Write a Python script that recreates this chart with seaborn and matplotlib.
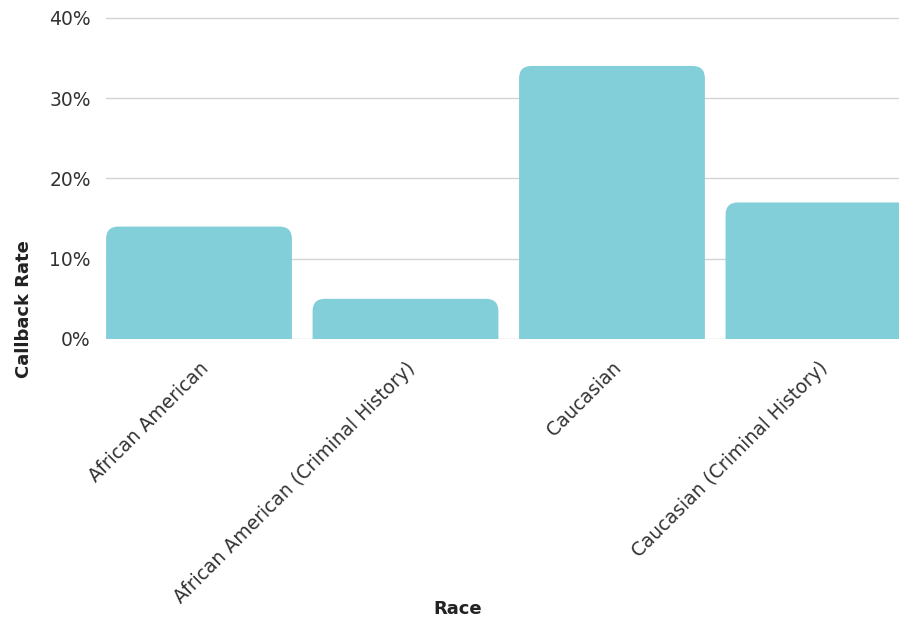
import matplotlib
matplotlib.use("Agg")
import matplotlib.pyplot as plt
import seaborn as sns
import pandas as pd
from matplotlib.patches import FancyBboxPatch
from matplotlib.ticker import PercentFormatter

# data
races = ["African American", "African American (Criminal History)",
         "Caucasian", "Caucasian (Criminal History)"]
callback_rate = [14, 5, 34, 17]  # percent

df = pd.DataFrame({"Race": races, "Callback Rate": callback_rate})

sns.set_theme(style="white")
plt.rcParams["font.family"] = ["DejaVu Sans"]

bar_color = "#83cfd9"

fig = plt.figure(figsize=(8.99, 6.18), dpi=100)
ax = fig.add_axes([0.118, 0.4515, 0.882, 0.521])

sns.barplot(data=df, x="Race", y="Callback Rate", color=bar_color,
            width=0.9, saturation=1, ax=ax)

# swap plain bars for ones with rounded tops (bottom part gets clipped)
for p in list(ax.patches):
    x0, w, h = p.get_x(), p.get_width(), p.get_height()
    p.set_visible(False)
    rb = FancyBboxPatch((x0, -3), w, h + 3,
                        boxstyle="round,pad=0,rounding_size=0.06",
                        mutation_aspect=25.6, facecolor=bar_color,
                        edgecolor="none", zorder=2)
    ax.add_patch(rb)

ax.set_xlim(-0.45, 3.39)
ax.set_ylim(0, 40.1)
ax.set_yticks([0, 10, 20, 30, 40])
ax.yaxis.set_major_formatter(PercentFormatter(100, decimals=0))

ax.grid(axis="y", color="#d4d4d4", linewidth=1)
ax.set_axisbelow(True)
sns.despine(ax=ax, left=True, bottom=True, top=True, right=True)

ax.tick_params(axis="y", length=0, pad=11, labelsize=13.5, labelcolor="#333333")
ax.tick_params(axis="x", length=0, pad=14, labelsize=13.5, labelcolor="#333333")
for lab in ax.get_xticklabels():
    lab.set_rotation(45)
    lab.set_ha("right")
    lab.set_rotation_mode("anchor")

ax.set_xlabel("Race", fontsize=13, fontweight="bold", color="#222222")
ax.set_ylabel("Callback Rate", fontsize=13, fontweight="bold", color="#222222")
ax.xaxis.set_label_coords(0.444, -0.81)
ax.yaxis.set_label_coords(-0.092, 0.093)

plt.savefig("out.png", dpi=100)
